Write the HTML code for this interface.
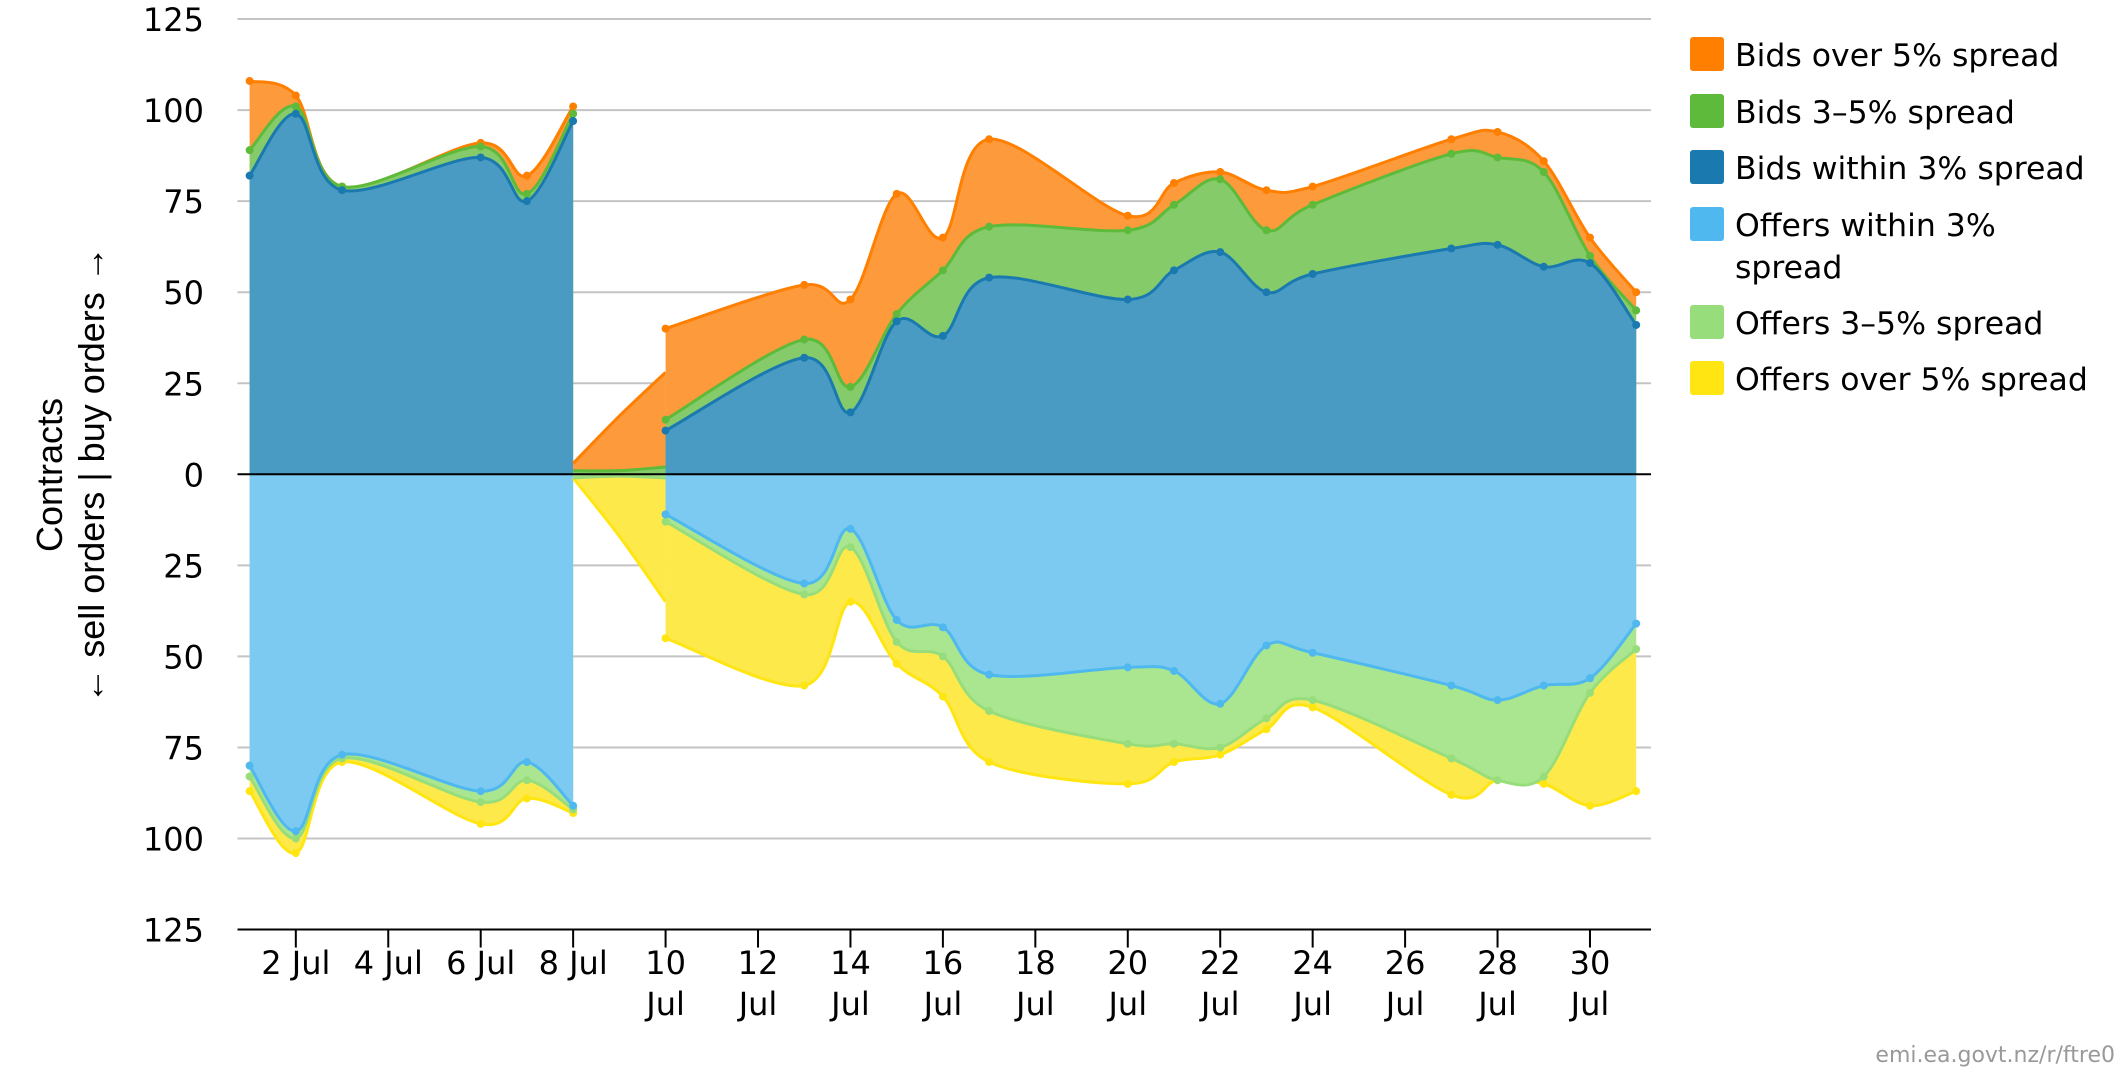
<!DOCTYPE html>
<html><head><meta charset="utf-8"><style>
html,body{margin:0;padding:0;background:#fff;}
svg{display:block;}
text{font-family:"DejaVu Sans","Liberation Sans",sans-serif;}
</style></head><body>
<svg id="c" width="2125" height="1067" viewBox="0 0 2125 1067" xmlns="http://www.w3.org/2000/svg">
<g id="grid"></g>
<g id="areas"></g>
<g id="axes"></g>
<text transform="translate(62,475) rotate(-90)" text-anchor="middle" font-size="36" style="font-family:'Liberation Sans',sans-serif">Contracts</text>
<text transform="translate(104,475) rotate(-90)" text-anchor="middle" font-size="36" style="font-family:'Liberation Sans',sans-serif">← sell orders | buy orders →</text>
<g font-size="31.5">
<rect x="1690" y="37" width="34" height="34" rx="3" fill="#ff7f00"/><text x="1735" y="66">Bids over 5% spread</text>
<rect x="1690" y="94" width="34" height="34" rx="3" fill="#5dba3a"/><text x="1735" y="123">Bids 3–5% spread</text>
<rect x="1690" y="150" width="34" height="34" rx="3" fill="#1a7ab0"/><text x="1735" y="179">Bids within 3% spread</text>
<rect x="1690" y="207" width="34" height="34" rx="3" fill="#4fb8ee"/><text x="1735" y="236">Offers within 3%</text><text x="1735" y="278">spread</text>
<rect x="1690" y="305" width="34" height="34" rx="3" fill="#98dd7c"/><text x="1735" y="334">Offers 3–5% spread</text>
<rect x="1690" y="361" width="34" height="34" rx="3" fill="#ffe511"/><text x="1735" y="390">Offers over 5% spread</text>
</g>
<text x="2115" y="1062" text-anchor="end" font-size="22" fill="#999">emi.ea.govt.nz/r/ftre0</text>
</svg>
<script>
const NS="http://www.w3.org/2000/svg";
const L=237.5,R=1651;
const X=d=>249.6+(d-1)*46.22, Y=v=>474.3-v*3.642;
function el(p,t,a,txt){const e=document.createElementNS(NS,t);for(const k in a)e.setAttribute(k,a[k]);if(txt!==undefined)e.textContent=txt;p.appendChild(e);return e;}
const G=document.getElementById('grid'),A=document.getElementById('areas'),AX=document.getElementById('axes');
for(let v=-125;v<=125;v+=25){const y=Y(v);
 if(v!==0&&v!==-125)el(G,'line',{x1:L,x2:R,y1:y,y2:y,stroke:'#c4c4c4','stroke-width':2});
 el(AX,'text',{x:204,y:y+12,'text-anchor':'end','font-size':32},String(Math.abs(v)));}
function spline(pts){let d='';for(let i=0;i<pts.length-1;i++){const p0=pts[Math.max(0,i-1)],p1=pts[i],p2=pts[i+1],p3=pts[Math.min(pts.length-1,i+2)];
 const c1=[p1[0]+(p2[0]-p0[0])/6,p1[1]+(p2[1]-p0[1])/6],c2=[p2[0]-(p3[0]-p1[0])/6,p2[1]-(p3[1]-p1[1])/6];
 c1[0]=Math.min(Math.max(c1[0],p1[0]),p2[0]);c2[0]=Math.min(Math.max(c2[0],p1[0]),p2[0]);
 d+=` C${c1[0]},${c1[1]} ${c2[0]},${c2[1]} ${p2[0]},${p2[1]}`;}return d;}
function area(days,vals,fill,line,sign,dots){const pts=days.map((d,i)=>[X(d),Y(sign*vals[i])]);
 let d=`M${pts[0][0]},${Y(0)} L${pts[0][0]},${pts[0][1]}`+spline(pts)+` L${pts[pts.length-1][0]},${Y(0)} Z`;
 el(A,'path',{d:d,fill:fill});
 el(A,'path',{d:`M${pts[0][0]},${pts[0][1]}`+spline(pts),fill:'none',stroke:line,'stroke-width':3});
 if(dots)pts.forEach(p=>el(A,'circle',{cx:p[0],cy:p[1],r:4,fill:line}));}
const cO='#fd9a3c',lO='#ff7f00',cG='#86cb69',lG='#5dba3a',cB='#4a9bc4',lB='#1a7ab0';
const cLB='#7ccaf2',lLB='#4fb8ee',cLG='#aae690',lLG='#98dd7c',cY='#fde94a',lY='#ffe511';
const dA=[1,2,3,6,7,8];
area(dA,[108,104,79,91,82,101],cO,lO,1,1);
area(dA,[89,101,79,90,77,99],cG,lG,1,1);
area(dA,[82,99,78,87,75,97],cB,lB,1,1);
area(dA,[87,104,79,96,89,93],cY,lY,-1,1);
area(dA,[83,100,78,90,84,92],cLG,lLG,-1,1);
area(dA,[80,98,77,87,79,91],cLB,lLB,-1,1);
const dB=[8,9,10];
area(dB,[3,16,28],cO,lO,1,0);
area(dB,[1,1,2],cG,lG,1,0);
area(dB,[1,17,35],cY,lY,-1,0);
area(dB,[1,0.5,1],cLG,lLG,-1,0);
const dC=[10,13,14,15,16,17,20,21,22,23,24,27,28,29,30,31];
area(dC,[40,52,48,77,65,92,71,80,83,78,79,92,94,86,65,50],cO,lO,1,1);
area(dC,[15,37,24,44,56,68,67,74,81,67,74,88,87,83,60,45],cG,lG,1,1);
area(dC,[12,32,17,42,38,54,48,56,61,50,55,62,63,57,58,41],cB,lB,1,1);
area(dC,[45,58,35,52,61,79,85,79,77,70,64,88,84,85,91,87],cY,lY,-1,1);
area(dC,[13,33,20,46,50,65,74,74,75,67,62,78,84,83,60,48],cLG,lLG,-1,1);
area(dC,[11,30,15,40,42,55,53,54,63,47,49,58,62,58,56,41],cLB,lLB,-1,1);
el(AX,'line',{x1:L,x2:R,y1:Y(0),y2:Y(0),stroke:'#000','stroke-width':2});
el(AX,'line',{x1:L,x2:R,y1:Y(-125),y2:Y(-125),stroke:'#000','stroke-width':2});
for(let d=2;d<=30;d+=2){const x=X(d);el(AX,'line',{x1:x,x2:x,y1:Y(-125),y2:Y(-125)+18,stroke:'#000','stroke-width':2});
 if(d<10)el(AX,'text',{x:x,y:974,'text-anchor':'middle','font-size':32},d+' Jul');
 else{el(AX,'text',{x:x,y:974,'text-anchor':'middle','font-size':32},String(d));el(AX,'text',{x:x,y:1015,'text-anchor':'middle','font-size':32},'Jul');}}
</script>
</body></html>
